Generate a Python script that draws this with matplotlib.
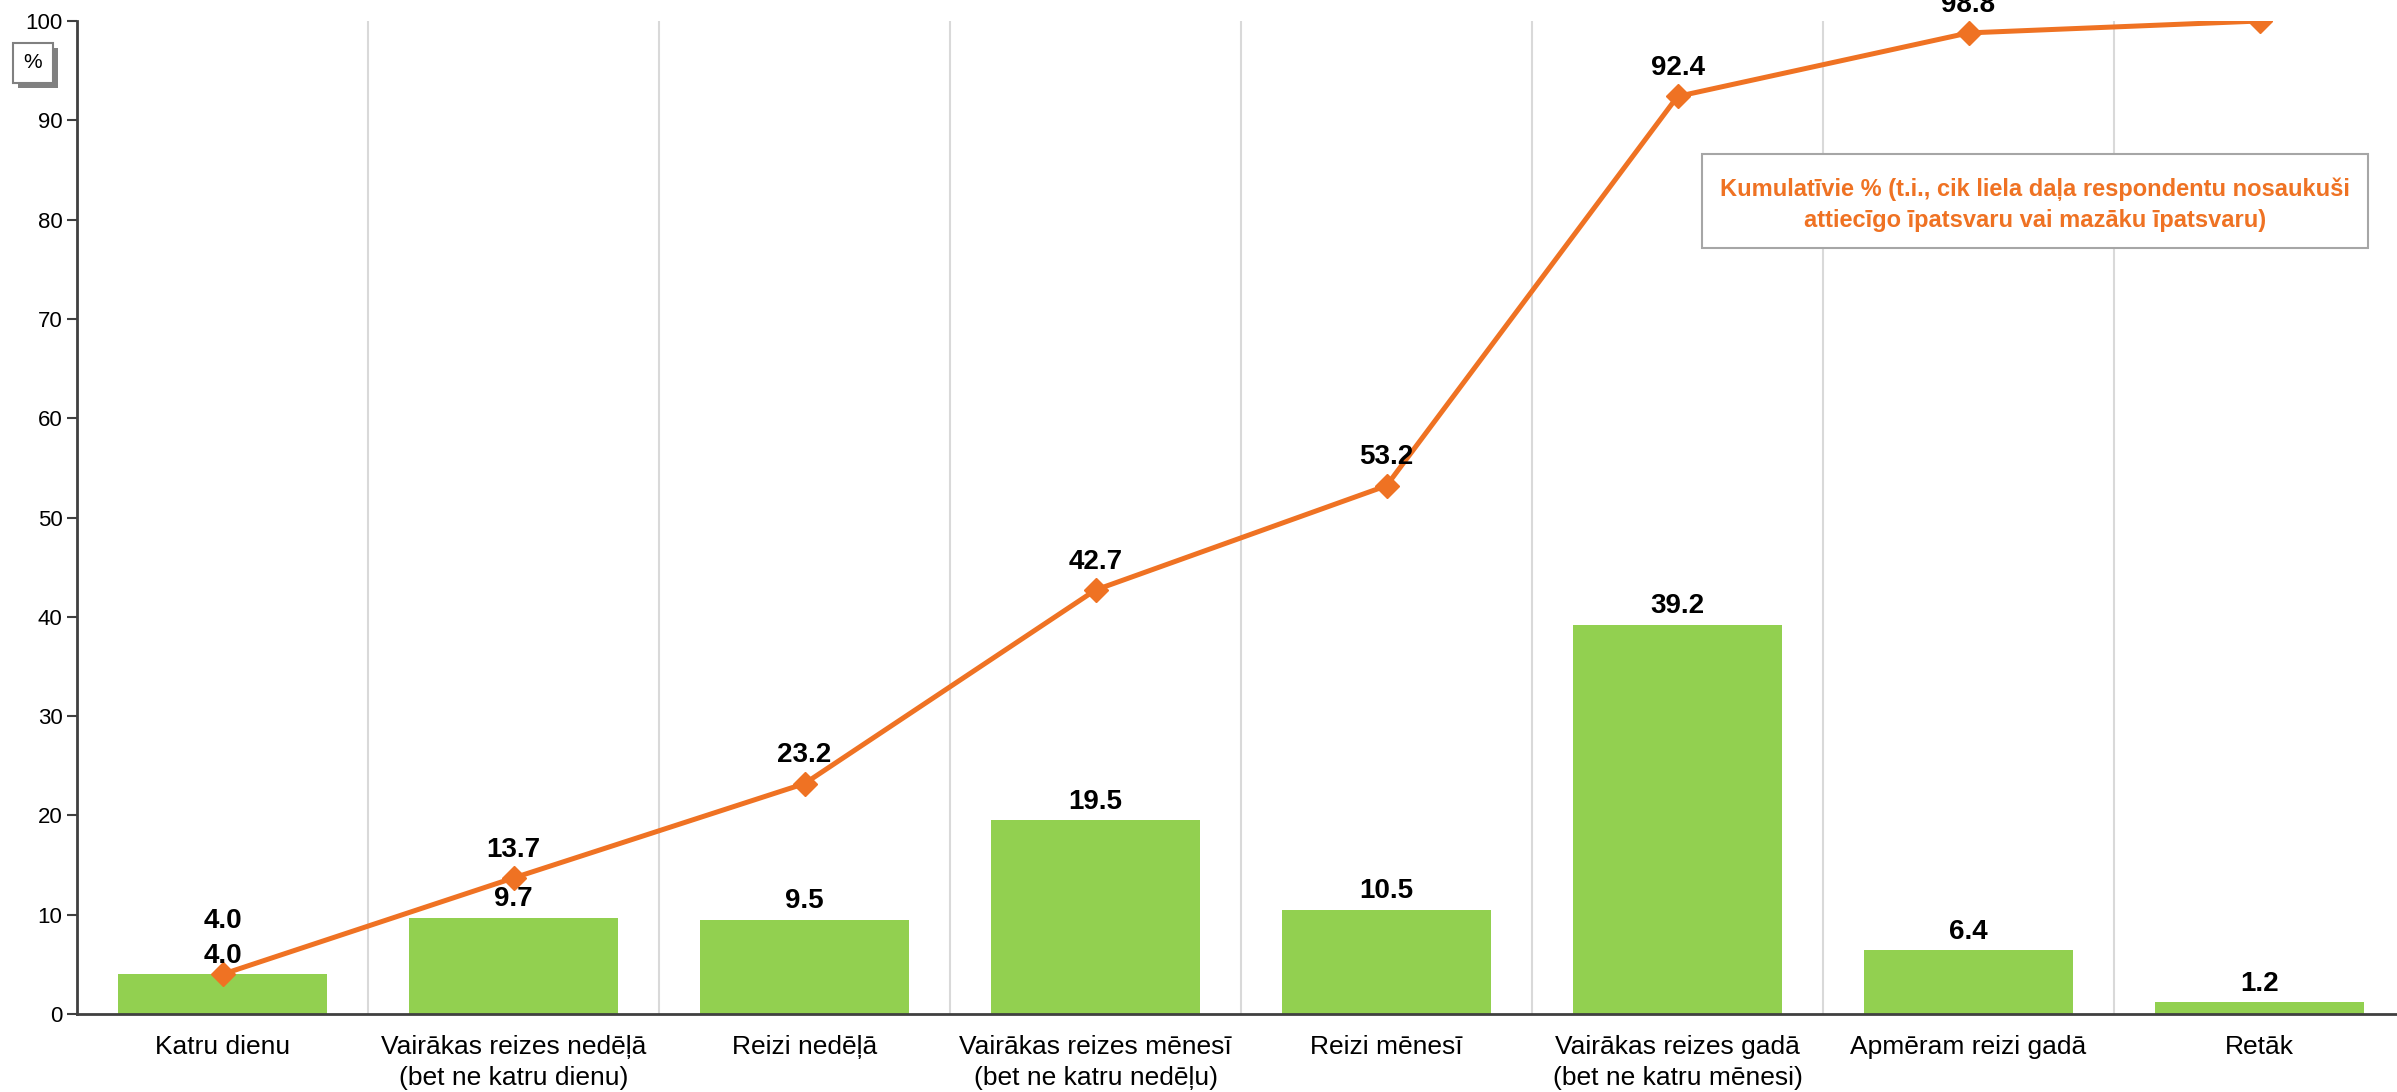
import matplotlib.pyplot as plt
from matplotlib.patches import Rectangle
import numpy as np

plt.rcParams['font.family'] = ['Liberation Sans', 'DejaVu Sans']

# categories and values
categories = [
    "Katru dienu",
    "Vairākas reizes nedēļā\n(bet ne katru dienu)",
    "Reizi nedēļā",
    "Vairākas reizes mēnesī\n(bet ne katru nedēļu)",
    "Reizi mēnesī",
    "Vairākas reizes gadā\n(bet ne katru mēnesi)",
    "Apmēram reizi gadā",
    "Retāk",
]
share = [4.0, 9.7, 9.5, 19.5, 10.5, 39.2, 6.4, 1.2]
cumulative = [4.0, 13.7, 23.2, 42.7, 53.2, 92.4, 98.8, 100.0]
yticks = [0, 10, 20, 30, 40, 50, 60, 70, 80, 90, 100]

green = '#92D050'
orange = '#EF7223'

W, H = 2397, 1092
fig = plt.figure(figsize=(W / 100, H / 100), dpi=100)
ax = fig.add_axes([77 / W, 78 / H, 2328 / W, 993 / H])

x = np.arange(len(categories))
ax.bar(x, share, width=0.715, color=green, zorder=2)
ax.plot(x, cumulative, color=orange, lw=3.6, marker='D', ms=12, zorder=4)

# labels on bars
for xi, v in zip(x, share):
    ax.annotate(f"{v:.1f}", (xi, v), xytext=(0, 4), textcoords='offset points',
                ha='center', va='bottom', fontsize=20, fontweight='bold',
                annotation_clip=False, zorder=5)

# labels on the cumulative line
for i, (xi, v) in enumerate(zip(x, cumulative)):
    off = 29 if i == 0 else 11
    ax.annotate(f"{v:.1f}", (xi, v), xytext=(0, off), textcoords='offset points',
                ha='center', va='bottom', fontsize=20, fontweight='bold',
                annotation_clip=False, zorder=5)

ax.set_xlim(-0.5, len(categories) - 0.5)
ax.set_ylim(0, 100)
ax.set_yticks(yticks)
ax.set_xticks(x)
ax.set_xticklabels(categories, fontsize=19, linespacing=1.38)
ax.tick_params(axis='x', length=0, pad=15)
ax.tick_params(axis='y', labelsize=16, length=7, width=1.5, color='#404040', direction='out')

# vertical separators between categories
for b in np.arange(0.5, len(categories) - 0.5, 1):
    ax.axvline(b, color='#D9D9D9', lw=1.5, zorder=1)

for s in ['top', 'right']:
    ax.spines[s].set_visible(False)
for s in ['left', 'bottom']:
    ax.spines[s].set_color('#404040')
    ax.spines[s].set_linewidth(2)

# "%" box with shadow
fig.patches.append(Rectangle((18 / W, (H - 88) / H), 40 / W, 40 / H,
                             transform=fig.transFigure, facecolor='#808080',
                             edgecolor='none', zorder=1))
fig.patches.append(Rectangle((13 / W, (H - 83) / H), 40 / W, 40 / H,
                             transform=fig.transFigure, facecolor='white',
                             edgecolor='#808080', lw=1.5, zorder=2))
fig.text(33 / W, (H - 63) / H, '%', ha='center', va='center', fontsize=15, zorder=3)

# note box for the cumulative line
fig.patches.append(Rectangle((1702 / W, (H - 248) / H), 666 / W, 94 / H,
                             transform=fig.transFigure, facecolor='white',
                             edgecolor='#A6A6A6', lw=1.5, zorder=1))
fig.text(2035 / W, (H - 205) / H,
         "Kumulatīvie % (t.i., cik liela daļa respondentu nosaukuši\n"
         "attiecīgo īpatsvaru vai mazāku īpatsvaru)",
         ha='center', va='center', fontsize=17, fontweight='bold',
         color=orange, linespacing=1.45, zorder=3)

fig.savefig('out.png', dpi=100)
